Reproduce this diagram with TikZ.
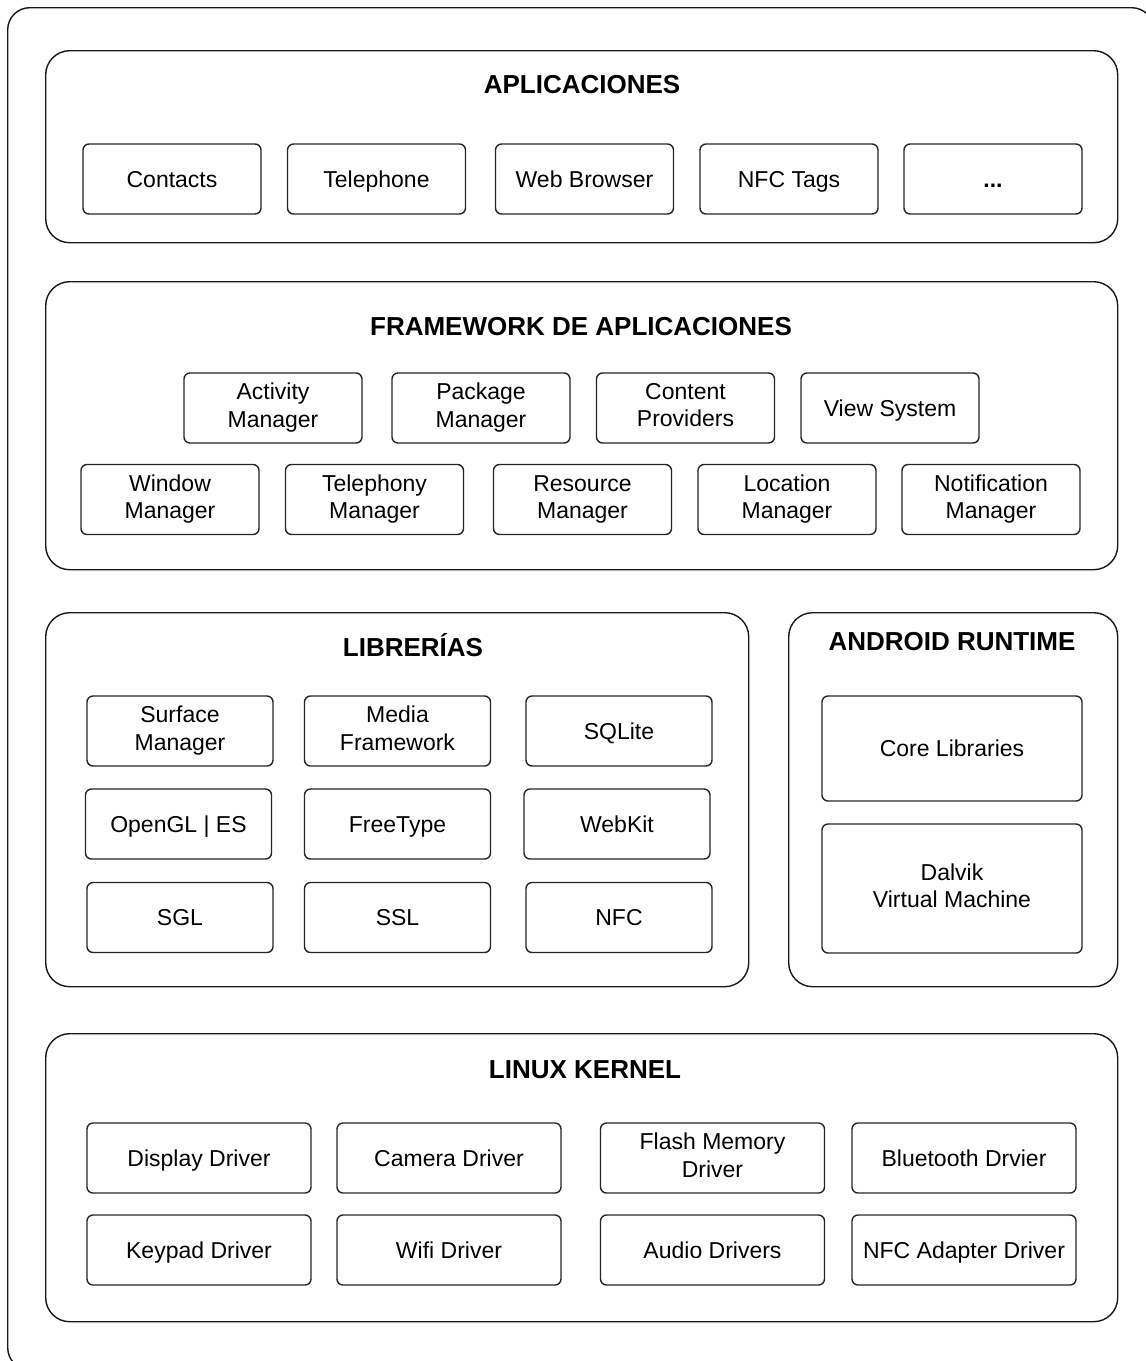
\documentclass[tikz,border=0pt]{standalone}
\usepackage{fontspec}
\setmainfont{Liberation Sans}

\begin{document}
\begin{tikzpicture}[x=0.5pt,y=-0.5pt,
   every node/.style={font=\fontsize{11.5}{13.6}\selectfont,align=center,inner sep=0pt},
   item/.style={draw=black!85,line width=0.7pt,rounded corners=3pt,minimum width=89pt,minimum height=35pt,
      execute at begin node={\rule[-2.8pt]{0pt}{13.8pt}},execute at end node={\rule[-2.8pt]{0pt}{13.8pt}}},
   group/.style={draw=black!90,line width=0.7pt,rounded corners=12pt,anchor=north west},
   title/.style={font=\fontsize{13}{15}\selectfont\bfseries}]

\clip (0,0) rectangle (1146,1361);
\node[group,rounded corners=11pt,minimum width=573pt,minimum height=681pt] (frame) at (7,7) {};

% aplicaciones
\node[group,minimum width=536pt,minimum height=96pt] (apps) at (45,50) {};
\node[title] (appstitle) at (582,85) {APLICACIONES};
\node[item] (contacts) at (172,179) {Contacts};
\node[item] (phone) at (376.5,179) {Telephone};
\node[item] (browser) at (584.5,179) {Web Browser};
\node[item] (nfctags) at (789,179) {NFC Tags};
\node[item] (more) at (993,179) {\textbf{...}};

% framework
\node[group,minimum width=536pt,minimum height=144pt] (fw) at (45,281) {};
\node[title] (fwtitle) at (581,327) {FRAMEWORK DE APLICACIONES};
\node[item] (activity) at (273,408) {Activity\\Manager};
\node[item] (package) at (481,408) {Package\\Manager};
\node[item] (content) at (685.5,408) {Content\\Providers};
\node[item] (view) at (890,408) {View System};
\node[item] (window) at (170,499.5) {Window\\Manager};
\node[item] (telephony) at (374.5,499.5) {Telephony\\Manager};
\node[item] (resource) at (582.5,499.5) {Resource\\Manager};
\node[item] (location) at (787,499.5) {Location\\Manager};
\node[item] (notif) at (991,499.5) {Notification\\Manager};

% librerias
\node[group,minimum width=351.5pt,minimum height=187pt] (libs) at (45,612) {};
\node[title] (libstitle) at (413,645) {LIBRERÍAS};
\node[item,minimum width=93pt] (surface) at (180,731) {Surface\\Manager};
\node[item,minimum width=93pt] (media) at (397.5,731) {Media\\Framework};
\node[item,minimum width=93pt] (sqlite) at (619,731) {SQLite};
\node[item,minimum width=93pt] (opengl) at (178.5,824) {OpenGL | ES};
\node[item,minimum width=93pt] (freetype) at (397.5,824) {FreeType};
\node[item,minimum width=93pt] (webkit) at (617,824) {WebKit};
\node[item,minimum width=93pt] (sgl) at (180,917.5) {SGL};
\node[item,minimum width=93pt] (ssl) at (397.5,917.5) {SSL};
\node[item,minimum width=93pt] (nfc) at (619,917.5) {NFC};

% android runtime
\node[group,minimum width=164.5pt,minimum height=187pt] (rt) at (788,612) {};
\node[title] (rttitle) at (952,642) {ANDROID RUNTIME};
\node[item,minimum width=130pt,minimum height=52.5pt] (core) at (952,748.5) {Core Libraries};
\node[item,minimum width=130pt,minimum height=64.5pt] (dalvik) at (952,888.5) {Dalvik\\Virtual Machine};

% linux kernel
\node[group,minimum width=536pt,minimum height=144pt] (kernel) at (45,1033) {};
\node[title] (kerneltitle) at (585,1070) {LINUX KERNEL};
\node[item,minimum width=112pt] (display) at (199,1158) {Display Driver};
\node[item,minimum width=112pt] (camera) at (449,1158) {Camera Driver};
\node[item,minimum width=112pt] (flash) at (712.5,1158) {Flash Memory\\Driver};
\node[item,minimum width=112pt] (bt) at (964,1158) {Bluetooth Drvier};
\node[item,minimum width=112pt] (keypad) at (199,1250) {Keypad Driver};
\node[item,minimum width=112pt] (wifi) at (449,1250) {Wifi Driver};
\node[item,minimum width=112pt] (audio) at (712.5,1250) {Audio Drivers};
\node[item,minimum width=112pt] (nfcdrv) at (964,1250) {NFC Adapter Driver};

\end{tikzpicture}
\end{document}
